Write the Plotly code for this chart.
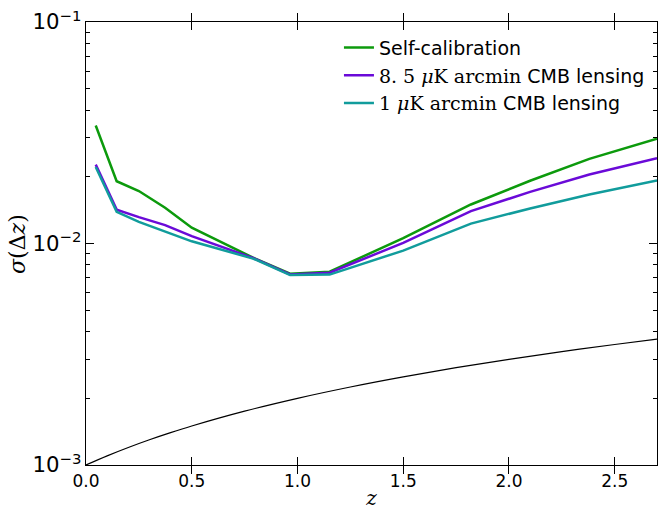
import plotly.graph_objects as go

# Redshift bins
z_bins = [0.046, 0.145, 0.25, 0.374, 0.5, 0.79, 0.965, 1.152, 1.5, 1.82, 2.1, 2.38, 2.7]

self_cal = [0.0341, 0.0191, 0.01725, 0.01449, 0.01178, 0.00863, 0.00731, 0.00746,
            0.01057, 0.0150, 0.0192, 0.0241, 0.0297]
cmb_8p5 = [0.0227, 0.01422, 0.01316, 0.0121, 0.01079, 0.00860, 0.00725, 0.00738,
           0.01007, 0.0140, 0.0171, 0.0205, 0.0243]
cmb_1 = [0.02213, 0.0139, 0.01253, 0.01135, 0.01023, 0.00855, 0.00720, 0.00724,
         0.00929, 0.0123, 0.0144, 0.01663, 0.01928]

# Reference requirement curve (black)
z_req = [0.0, 0.1, 0.2, 0.3, 0.4, 0.5, 0.75, 1.0, 1.25, 1.5, 1.75, 2.0, 2.25, 2.5, 2.7]
req = [0.00100, 0.00110, 0.00120, 0.00130, 0.00140, 0.00150, 0.00175, 0.00200,
       0.00225, 0.00250, 0.00275, 0.00300, 0.00325, 0.00350, 0.00370]

x_ticks = [0.0, 0.5, 1.0, 1.5, 2.0, 2.5]
x_ticklabels = ["0.0", "0.5", "1.0", "1.5", "2.0", "2.5"]

SERIF = "font-family:'DejaVu Serif'"
names = [
    "Self-calibration",
    f"<span style=\"{SERIF}\">8. 5 <i>μ</i>K arcmin</span> CMB lensing",
    f"<span style=\"{SERIF}\">1 <i>μ</i>K arcmin</span> CMB lensing",
]
colors = ["#0c9a0c", "#6a0ad8", "#119c9c"]

fig = go.Figure()
for name, ys, c in zip(names, [self_cal, cmb_8p5, cmb_1], colors):
    fig.add_trace(go.Scatter(x=z_bins, y=ys, mode="lines", name=name,
                             line=dict(color=c, width=2.5)))
fig.add_trace(go.Scatter(x=z_req, y=req, mode="lines", showlegend=False,
                         line=dict(color="black", width=1.2, shape="spline")))
# invisible trace to drive the mirrored right-hand log axis (minor ticks on right)
fig.add_trace(go.Scatter(x=z_req, y=req, mode="lines", showlegend=False, yaxis="y2",
                         line=dict(color="rgba(0,0,0,0)", width=0), hoverinfo="skip"))

fig.update_layout(
    width=662, height=510,
    margin=dict(l=86, r=5, t=22, b=45),
    paper_bgcolor="white", plot_bgcolor="white",
    xaxis=dict(range=[0, 2.7], tickvals=x_ticks, ticktext=x_ticklabels, ticklen=8,
               showline=True, linecolor="black", linewidth=1.3, mirror="allticks",
               ticks="inside", tickcolor="black", showgrid=False, zeroline=False,
               automargin=False,
               tickfont=dict(family="DejaVu Sans", size=17, color="black"),
               title=dict(text="<i>z</i>", font=dict(family="DejaVu Serif", size=20, color="black"),
                          standoff=2)),
    yaxis=dict(type="log", range=[-3, -1], dtick=1, exponentformat="power", ticklen=8,
               showline=True, linecolor="black", linewidth=1.3, mirror=True,
               ticks="inside", tickcolor="black", showgrid=False, zeroline=False,
               automargin=False,
               minor=dict(ticks="inside", ticklen=4, dtick="D1", tickcolor="black", showgrid=False),
               tickfont=dict(family="DejaVu Sans", size=17, color="black")),
    yaxis2=dict(type="log", range=[-3, -1], dtick=1, overlaying="y", side="right",
                ticks="inside", ticklen=8, tickcolor="black", showticklabels=False,
                showgrid=False, zeroline=False, showline=False, automargin=False,
                minor=dict(ticks="inside", ticklen=4, dtick="D1", tickcolor="black", showgrid=False)),
    legend=dict(x=0.443, y=0.985, xanchor="left", yanchor="top", bgcolor="rgba(0,0,0,0)",
                font=dict(family="DejaVu Sans", size=19, color="black"), tracegroupgap=0),
    annotations=[dict(text="<i>σ</i>(Δ<i>z</i>)", xref="paper", yref="paper",
                      x=-0.12, y=0.5, xanchor="center", yanchor="middle", textangle=-90,
                      showarrow=False,
                      font=dict(family="DejaVu Serif", size=22, color="black"))],
    showlegend=True,
)

fig.write_html("out.html", config={"displayModeBar": False},
               post_script="document.body.style.margin='0';document.body.style.overflow='hidden';")
